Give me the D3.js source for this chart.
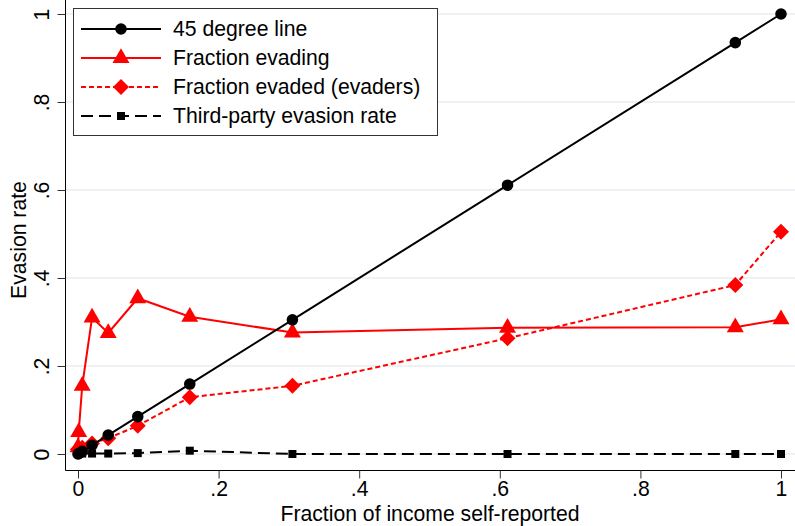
<!DOCTYPE html>
<html>
<head>
<meta charset="utf-8">
<script src="https://cdn.jsdelivr.net/npm/d3@7"></script>
<style>
    body { margin: 0; background: #fff; }
    text { font-family: "Liberation Sans", Arial, sans-serif; }
</style>
</head>
<body>
<div id="chart"></div>
<script>
// data
var shares = [0, 0.001, 0.006, 0.02, 0.043, 0.085, 0.159, 0.305, 0.611, 0.935, 1.0];
var degree45 = [0, 0.001, 0.006, 0.02, 0.043, 0.085, 0.159, 0.305, 0.611, 0.935, 1.0];
var fracEvading = [0.015, 0.05, 0.155, 0.31, 0.275, 0.354, 0.312, 0.276, 0.287, 0.288, 0.306];
var fracEvaded = [0.01, 0.012, 0.014, 0.024, 0.036, 0.064, 0.129, 0.155, 0.263, 0.384, 0.505];
var thirdParty = [0, 0, 0.001, 0.001, 0.001, 0.002, 0.0075, 0.0, 0.0, 0.0, 0.0];
var xTicks = [0, 0.2, 0.4, 0.6, 0.8, 1];
var yTicks = [0, 0.2, 0.4, 0.6, 0.8, 1];
var seriesNames = ["45 degree line", "Fraction evading", "Fraction evaded (evaders)", "Third-party evasion rate"];

var width = 795, height = 526;
var fontSize = 21.2;

var svg = d3.select("#chart")
    .append("svg")
    .attr("width", width)
    .attr("height", height);

var x = d3.scaleLinear().domain([0, 1]).range([78, 781]);
var y = d3.scaleLinear().domain([0, 1]).range([454, 14]);

var axisX = 65.5, axisY = 470.5;

function fmt(v) {
    // stata style labels: 0, .2, .4 ... 1
    if (v === 0 || v === 1) return String(v);
    return d3.format(".1f")(v).replace(/^0/, "");
}

// gridlines
svg.append("g")
    .selectAll("line")
    .data(yTicks)
    .enter()
    .append("line")
    .attr("x1", axisX)
    .attr("x2", width)
    .attr("y1", function(d) { return y(d); })
    .attr("y2", function(d) { return y(d); })
    .attr("stroke", "#e6eef2")
    .attr("stroke-width", 1.5);

// y axis
var gy = svg.append("g")
    .attr("transform", "translate(" + axisX + ",0)")
    .call(d3.axisLeft(y).tickValues(yTicks).tickSize(8).tickFormat(fmt));
gy.select(".domain").attr("d", "M0,0V" + axisY).attr("stroke", "#000");
gy.selectAll(".tick line").attr("stroke", "#333");
gy.selectAll(".tick text")
    .attr("font-size", fontSize)
    .attr("fill", "#000")
    .attr("transform", "rotate(-90)")
    .attr("x", 0)
    .attr("y", -24)
    .attr("dy", "0.35em")
    .attr("text-anchor", "middle");

// x axis
var gx = svg.append("g")
    .attr("transform", "translate(0," + axisY + ")")
    .call(d3.axisBottom(x).tickValues(xTicks).tickSize(8).tickFormat(fmt));
gx.select(".domain").attr("d", "M" + axisX + ",0H" + width).attr("stroke", "#000");
gx.selectAll(".tick line").attr("stroke", "#333");
gx.selectAll(".tick text")
    .attr("font-size", fontSize)
    .attr("fill", "#000")
    .attr("y", 10);

// axis titles
svg.append("text")
    .attr("x", 430)
    .attr("y", 521)
    .attr("text-anchor", "middle")
    .attr("font-size", fontSize)
    .text("Fraction of income self-reported");

svg.append("text")
    .attr("transform", "translate(26,240) rotate(-90)")
    .attr("text-anchor", "middle")
    .attr("font-size", fontSize)
    .text("Evasion rate");

var series = [
    {name: seriesNames[0], values: degree45, color: "#000", dash: null, symbol: d3.symbolCircle, size: 105, rot: 0},
    {name: seriesNames[1], values: fracEvading, color: "#ff0000", dash: null, symbol: d3.symbolTriangle, size: 125, rot: 0},
    {name: seriesNames[2], values: fracEvaded, color: "#ff0000", dash: "5,3", symbol: d3.symbolSquare, size: 128, rot: 45},
    {name: seriesNames[3], values: thirdParty, color: "#000", dash: "12,6", symbol: d3.symbolSquare, size: 64, rot: 0}
];

var line = d3.line()
    .x(function(d) { return x(d[0]); })
    .y(function(d) { return y(d[1]); });

// draw in reverse so 45 degree line is on top
series.slice().reverse().forEach(function(s) {
    var pts = shares.map(function(v, i) { return [v, s.values[i]]; });
    svg.append("path")
        .datum(pts)
        .attr("d", line)
        .attr("fill", "none")
        .attr("stroke", s.color)
        .attr("stroke-width", 2)
        .attr("stroke-dasharray", s.dash);
    svg.append("g")
        .selectAll("path")
        .data(pts)
        .enter()
        .append("path")
        .attr("transform", function(d) {
            return "translate(" + x(d[0]) + "," + y(d[1]) + ") rotate(" + s.rot + ")";
        })
        .attr("d", d3.symbol().type(s.symbol).size(s.size))
        .attr("fill", s.color);
});

// legend
var legend = svg.append("g").attr("transform", "translate(73,8)");
legend.append("rect")
    .attr("x", 0.5)
    .attr("y", 0.5)
    .attr("width", 364)
    .attr("height", 127)
    .attr("fill", "#fff")
    .attr("stroke", "#333")
    .attr("stroke-width", 1);

var items = legend.selectAll("g.item")
    .data(series)
    .enter()
    .append("g")
    .attr("class", "item")
    .attr("transform", function(d, i) { return "translate(0," + (21 + i * 29) + ")"; });

items.append("line")
    .attr("x1", 8)
    .attr("x2", 88)
    .attr("stroke", function(d) { return d.color; })
    .attr("stroke-width", 2)
    .attr("stroke-dasharray", function(d) { return d.dash; });

items.append("path")
    .attr("transform", function(d) { return "translate(48,0) rotate(" + d.rot + ")"; })
    .attr("d", function(d) { return d3.symbol().type(d.symbol).size(d.size)(); })
    .attr("fill", function(d) { return d.color; });

items.append("text")
    .attr("x", 100)
    .attr("dy", "0.35em")
    .attr("font-size", fontSize)
    .text(function(d) { return d.name; });
</script>
</body>
</html>
